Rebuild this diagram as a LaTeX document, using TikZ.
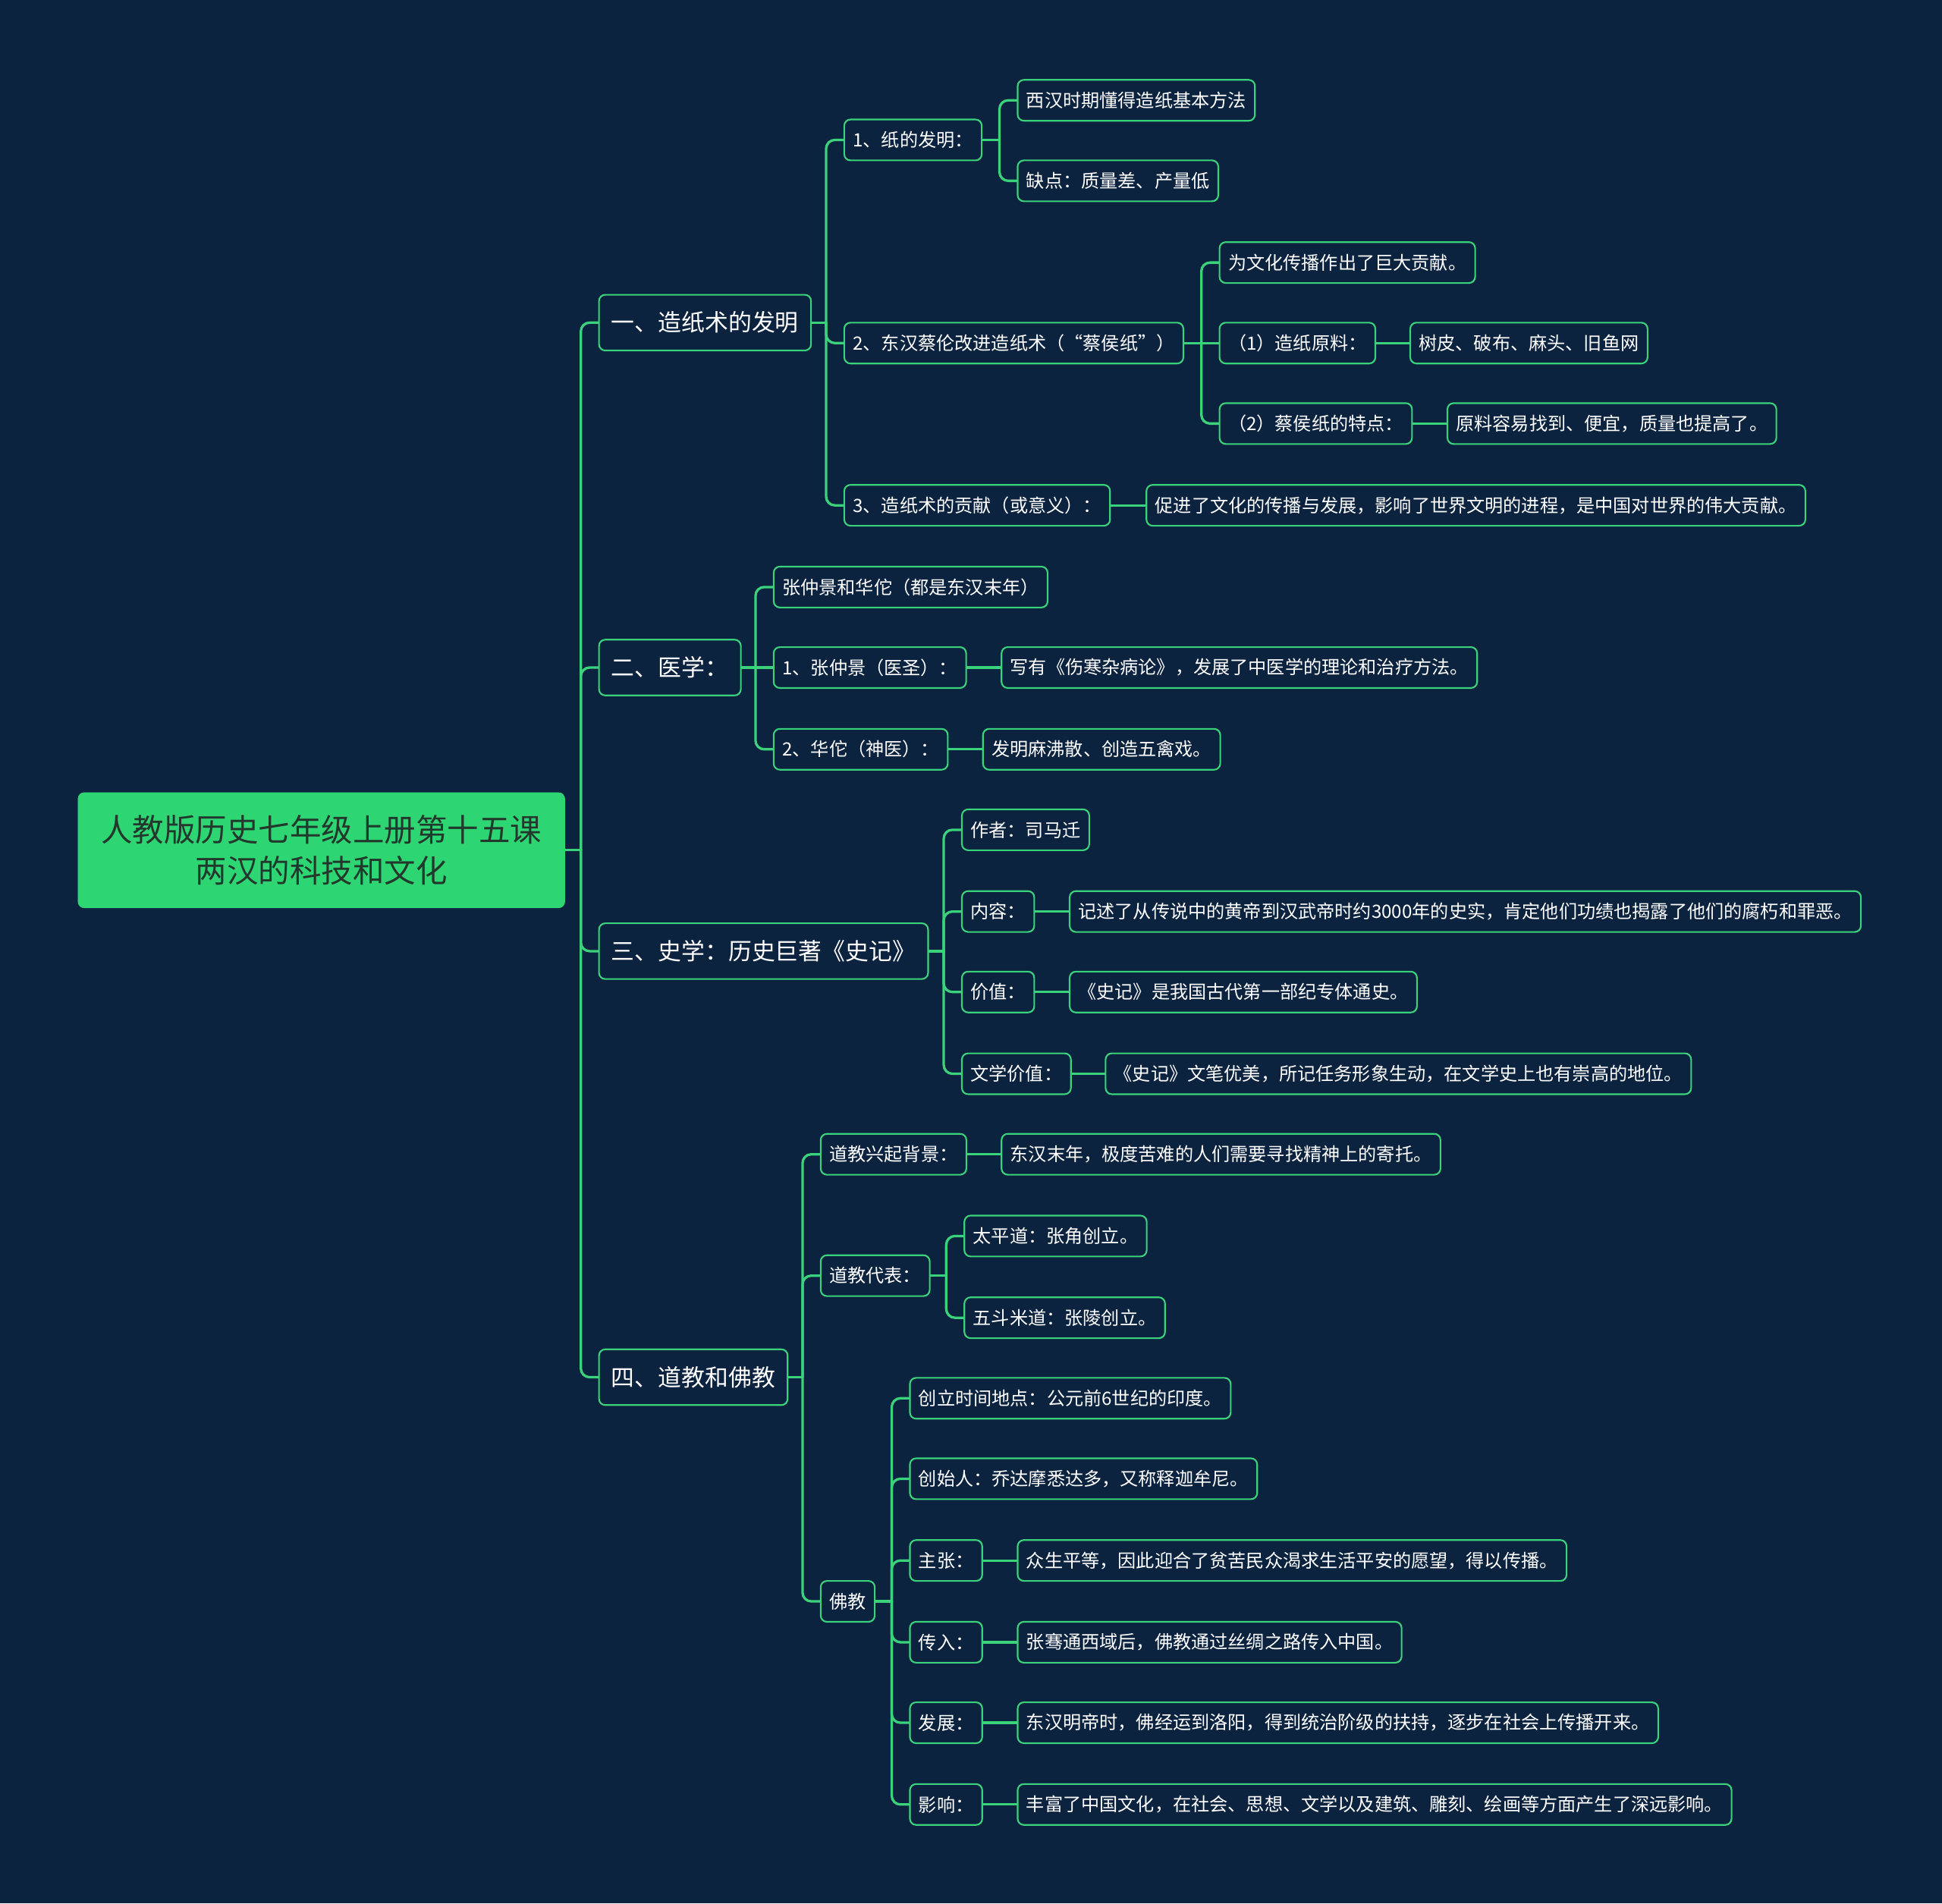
\documentclass[tikz,border=0pt]{standalone}
\usepackage{fontspec}
\setmainfont{Noto Sans CJK SC}
\usetikzlibrary{calc}
\definecolor{bgc}{HTML}{0C2340}
\definecolor{gr}{HTML}{2ED573}
\definecolor{ln}{HTML}{3AD27A}
\definecolor{dk}{HTML}{22382C}
\pgfdeclarelayer{backlayer}
\pgfdeclarelayer{edgelayer}
\pgfsetlayers{backlayer,edgelayer,main}
\tikzset{
 box/.style={draw=ln, line width=1.3pt, rounded corners=5pt, fill=bgc, text=white,
   inner xsep=7pt, inner ysep=0pt, minimum height=33pt, anchor=west,
   font=\fontsize{14.8}{18}\selectfont},
 lvlone/.style={box, minimum height=45pt, inner xsep=10pt, font=\fontsize{18.9}{22}\selectfont},
 rootbox/.style={fill=gr, draw=gr, rounded corners=5pt, text=dk, minimum width=393pt,
   minimum height=93pt, align=center, inner sep=0pt, font=\fontsize{25.4}{33}\selectfont},
 conn/.style={draw=ln, line width=2pt, line cap=round},
}
\newcommand\link[2]{%
 \draw[conn] let \p1=(#1.east), \p2=(#2.west) in (\p1) -- (\x2-14pt,\y1);
 \draw[conn,rounded corners=7pt] let \p1=(#1.east), \p2=(#2.west) in (\x2-14pt,\y1) |- (\p2);
}
\newcommand\slink[2]{\draw[conn] (#1.east) -- (#2.west);}
\begin{document}
\begin{tikzpicture}[x=1pt,y=-1pt]
\begin{pgfonlayer}{backlayer}
\fill[bgc] (0,0) rectangle (1568,1537);
\end{pgfonlayer}
\path[use as bounding box] (0,0) rectangle (1568,1537);

\node[rootbox] (root) at (259.5,686.5) {人教版历史七年级上册第十五课\\两汉的科技和文化};

\node[lvlone] (a) at (483,260.5) {一、造纸术的发明};
\node[lvlone] (b) at (483,539) {二、医学：};
\node[lvlone] (c) at (483,768) {三、史学：历史巨著《史记》};
\node[lvlone] (d) at (483,1112) {四、道教和佛教};

\node[box] (n1) at (681,113) {1、纸的发明：};
\node[box] (n11) at (821,81) {西汉时期懂得造纸基本方法};
\node[box] (n12) at (821,146) {缺点：质量差、产量低};
\node[box] (n2) at (681,277) {2、东汉蔡伦改进造纸术（“蔡侯纸”）};
\node[box] (n21) at (984,212) {为文化传播作出了巨大贡献。};
\node[box] (n22) at (984,277) {（1）造纸原料：};
\node[box] (n221) at (1138,277) {树皮、破布、麻头、旧鱼网};
\node[box] (n23) at (984,342) {（2）蔡侯纸的特点：};
\node[box] (n231) at (1168,342) {原料容易找到、便宜，质量也提高了。};
\node[box] (n3) at (681,408) {3、造纸术的贡献（或意义）：};
\node[box] (n31) at (925,408) {促进了文化的传播与发展，影响了世界文明的进程，是中国对世界的伟大贡献。};

\node[box] (b1) at (624,474) {张仲景和华佗（都是东汉末年）};
\node[box] (b2) at (624,539) {1、张仲景（医圣）：};
\node[box] (b21) at (808,539) {写有《伤寒杂病论》，发展了中医学的理论和治疗方法。};
\node[box] (b3) at (624,605) {2、华佗（神医）：};
\node[box] (b31) at (793,605) {发明麻沸散、创造五禽戏。};

\node[box] (c1) at (776,670) {作者：司马迁};
\node[box] (c2) at (776,736) {内容：};
\node[box] (c21) at (863,736) {记述了从传说中的黄帝到汉武帝时约3000年的史实，肯定他们功绩也揭露了他们的腐朽和罪恶。};
\node[box] (c3) at (776,801) {价值：};
\node[box] (c31) at (863,801) {《史记》是我国古代第一部纪专体通史。};
\node[box] (c4) at (776,867) {文学价值：};
\node[box] (c41) at (892,867) {《史记》文笔优美，所记任务形象生动，在文学史上也有崇高的地位。};

\node[box] (d1) at (662,932) {道教兴起背景：};
\node[box] (d11) at (808,932) {东汉末年，极度苦难的人们需要寻找精神上的寄托。};
\node[box] (d2) at (662,1030) {道教代表：};
\node[box] (d21) at (778,998) {太平道：张角创立。};
\node[box] (d22) at (778,1064) {五斗米道：张陵创立。};
\node[box] (d3) at (662,1293) {佛教};
\node[box] (d31) at (734,1129) {创立时间地点：公元前6世纪的印度。};
\node[box] (d32) at (734,1194) {创始人：乔达摩悉达多，又称释迦牟尼。};
\node[box] (d33) at (734,1260) {主张：};
\node[box] (d331) at (821,1260) {众生平等，因此迎合了贫苦民众渴求生活平安的愿望，得以传播。};
\node[box] (d34) at (734,1326) {传入：};
\node[box] (d341) at (821,1326) {张骞通西域后，佛教通过丝绸之路传入中国。};
\node[box] (d35) at (734,1391) {发展：};
\node[box] (d351) at (821,1391) {东汉明帝时，佛经运到洛阳，得到统治阶级的扶持，逐步在社会上传播开来。};
\node[box] (d36) at (734,1457) {影响：};
\node[box] (d361) at (821,1457) {丰富了中国文化，在社会、思想、文学以及建筑、雕刻、绘画等方面产生了深远影响。};

\begin{pgfonlayer}{edgelayer}
\link{root}{a}\link{root}{b}\link{root}{c}\link{root}{d}
\link{a}{n1}\link{a}{n2}\link{a}{n3}
\link{n1}{n11}\link{n1}{n12}
\link{n2}{n21}\slink{n2}{n22}\link{n2}{n23}
\slink{n22}{n221}\slink{n23}{n231}\slink{n3}{n31}
\link{b}{b1}\slink{b}{b2}\link{b}{b3}\slink{b2}{b21}\slink{b3}{b31}
\link{c}{c1}\link{c}{c2}\link{c}{c3}\link{c}{c4}
\slink{c2}{c21}\slink{c3}{c31}\slink{c4}{c41}
\link{d}{d1}\link{d}{d2}\link{d}{d3}\slink{d1}{d11}
\link{d2}{d21}\link{d2}{d22}
\link{d3}{d31}\link{d3}{d32}\link{d3}{d33}\link{d3}{d34}\link{d3}{d35}\link{d3}{d36}
\slink{d33}{d331}\slink{d34}{d341}\slink{d35}{d351}\slink{d36}{d361}
\end{pgfonlayer}
\end{tikzpicture}
\end{document}
